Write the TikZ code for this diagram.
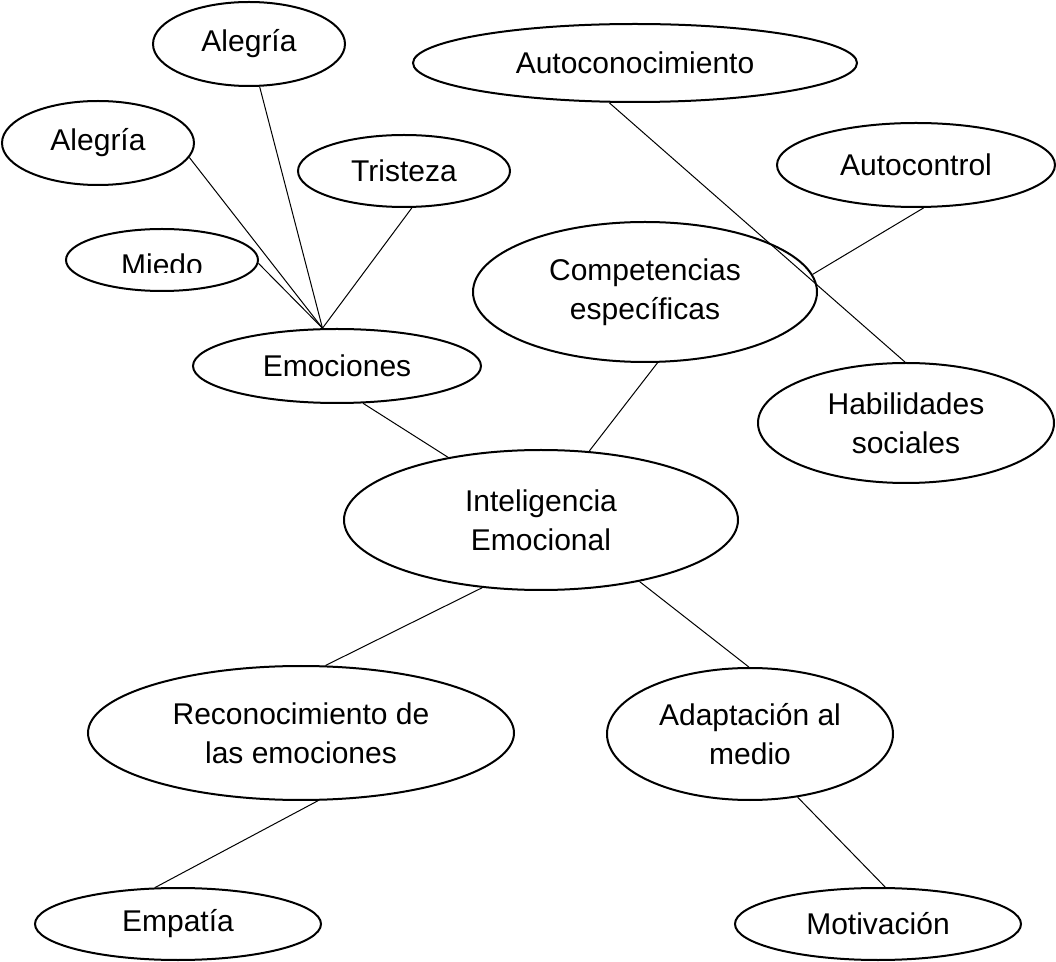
\documentclass[tikz,border=0pt]{standalone}
\usepackage{fontspec}
\setmainfont{Liberation Sans}
\usetikzlibrary{shapes.geometric}
\tikzset{
  bubble/.style={draw, ellipse, line width=1pt, inner sep=0pt, align=center,
                 font=\fontsize{15}{19.5}\selectfont},
  link/.style={line width=0.5pt}
}

\begin{document}
\begin{tikzpicture}[x=0.5pt,y=-0.5pt]
  \useasboundingbox (0,0) rectangle (1056,962);
  % emociones y sus ramas
  \node[bubble, minimum width=96pt, minimum height=42pt] (alegriaA) at (249,44) {Alegría};
  \node[bubble, minimum width=96pt, minimum height=42pt] (alegriaB) at (98,143) {Alegría};
  \node[bubble, minimum width=106pt, minimum height=36pt] (tristeza) at (404,171) {Tristeza};
  \node[bubble, minimum width=96pt, minimum height=31pt] (miedo) at (162,260) {};
  \begin{scope}
    \clip (67,229) rectangle (258,273);
    \node[font=\fontsize{15}{19.5}\selectfont, inner sep=0pt] (miedotxt) at (162,265) {Miedo};
  \end{scope}
  \node[bubble, minimum width=144pt, minimum height=37pt] (emociones) at (337,366) {Emociones};
  % competencias
  \node[bubble, minimum width=222pt, minimum height=39pt] (autocon) at (635,63) {Autoconocimiento};
  \node[bubble, minimum width=139pt, minimum height=42pt] (autocontrol) at (916,165) {Autocontrol};
  \node[bubble, minimum width=172pt, minimum height=70pt] (compet) at (645,292) {Competencias\\específicas};
  \node[bubble, minimum width=148pt, minimum height=60pt] (habil) at (906,423) {Habilidades\\sociales};
  % centro
  \node[bubble, minimum width=197pt, minimum height=70pt] (intel) at (541,520) {Inteligencia\\Emocional};
  \node[bubble, minimum width=213pt, minimum height=67pt] (recon) at (301,733) {Reconocimiento de\\las emociones};
  \node[bubble, minimum width=143pt, minimum height=66pt] (adapt) at (750,734) {Adaptación al\\medio};
  \node[bubble, minimum width=143pt, minimum height=36pt] (empatia) at (178,924) {Empatía};
  \node[bubble, minimum width=143pt, minimum height=36pt] (motiv) at (878,924) {Motivación};

  \draw[link] (alegriaB.-9) -- (emociones.111);
  \draw[link] (miedo.-2) -- (emociones.111);
  \draw[link] (alegriaA.-76) -- (emociones.111);
  \draw[link] (tristeza.-78) -- (emociones.111);
  \draw[link] (emociones.-55) -- (intel.146);
  \draw[link] (compet.-80) -- (intel.55);
  \draw[link] (autocon.-123) -- (habil.91);
  \draw[link] (autocontrol.-80) -- (compet.6);
  \draw[link] (intel.-131) -- (recon.70);
  \draw[link] (intel.-32) -- (adapt.91);
  \draw[link] (recon.-76) -- (empatia.122);
  \draw[link] (adapt.-53) -- (motiv.79);
\end{tikzpicture}
\end{document}
